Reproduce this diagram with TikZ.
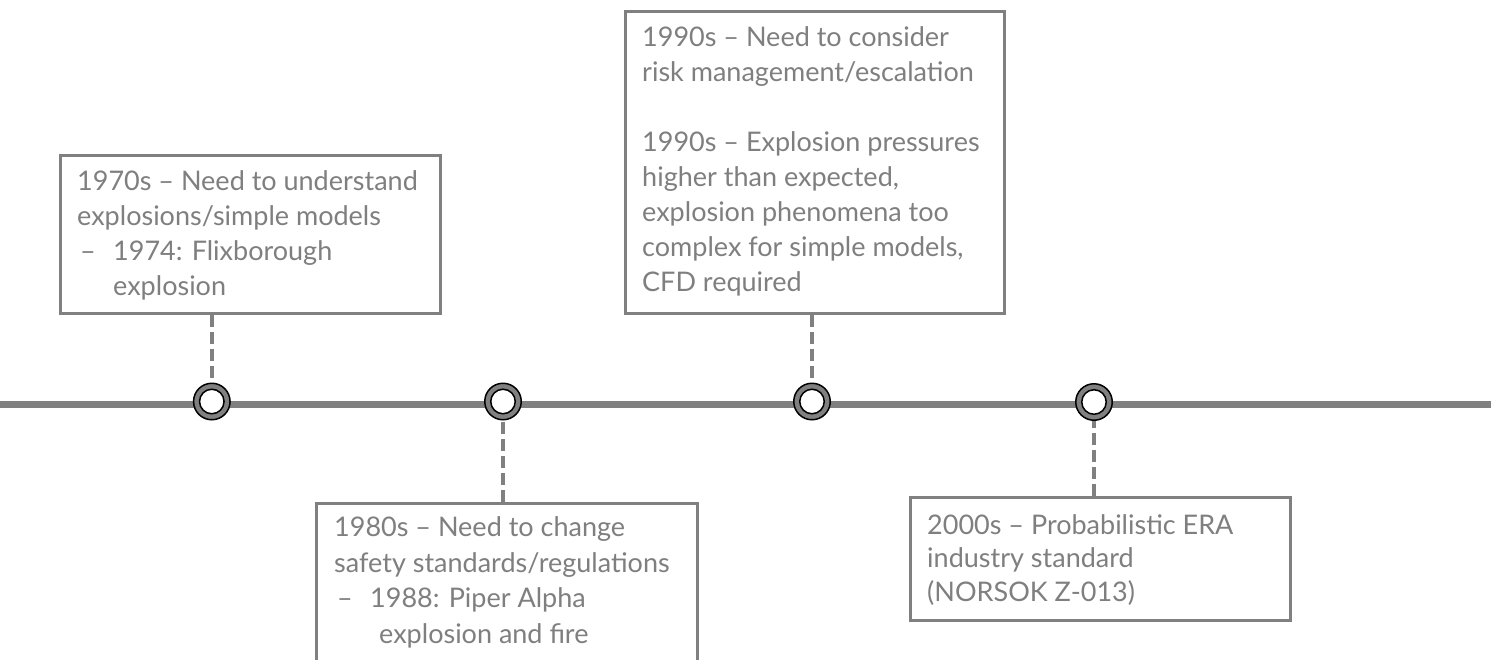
\documentclass[tikz,border=0pt]{standalone}
\usepackage{fontspec}
\setmainfont{Lato}
\usetikzlibrary{calc}
\definecolor{tlgray}{HTML}{808080}
\definecolor{txtgray}{HTML}{7F7F7F}
\begin{document}
\begin{tikzpicture}[x=1pt,y=-1pt,
  boxst/.style={draw=tlgray, line width=3pt, fill=white, rectangle, inner sep=0pt, anchor=north west},
  txt/.style={text=txtgray, font=\fontsize{27}{35}\selectfont, inner sep=0pt, anchor=base west, align=left},
  conn/.style={draw=tlgray, line width=4pt, dash pattern=on 12pt off 5pt},
  ring/.style={circle, draw=black, line width=1.5pt, fill=tlgray, minimum size=36.5pt, inner sep=0pt},
  hole/.style={circle, draw=black, line width=1.5pt, fill=white, minimum size=24.5pt, inner sep=0pt},
  tline/.style={draw=tlgray, line width=7pt}]
\useasboundingbox (0,0) rectangle (1491,659);
\fill[white] (0,0) rectangle (1491,659);
% timeline
\coordinate (tlL) at (0,404);
\coordinate (tlR) at (1491,404);
\draw[tline] (tlL) -- (tlR);
% event points
\coordinate (p1) at (211.8,401.5);
\coordinate (p2) at (503,401.5);
\coordinate (p3) at (812,401.5);
\coordinate (p4) at (1094,402);
% boxes
\node[boxst, minimum width=380pt, minimum height=158pt] (b1) at (58.5,153.5) {};
\node[boxst, minimum width=381pt, minimum height=200pt] (b2) at (314.5,501.5) {};
\node[boxst, minimum width=379pt, minimum height=302pt] (b3) at (623.5,9.5) {};
\node[boxst, minimum width=380pt, minimum height=123pt] (b4) at (908.5,495.5) {};
% connectors
\draw[conn] (b1.south -| p1) -- (p1);
\draw[conn] (b2.north -| p2) -- (p2);
\draw[conn] (b3.south -| p3) -- (p3);
\draw[conn] (b4.north -| p4) -- (p4);
% circles
\foreach \i in {1,2,3,4}{
  \node[ring] (r\i) at (p\i) {};
  \node[hole] (h\i) at (p\i) {};
}
% texts (anchored at the baseline of the last line)
\node[txt] (t1) at (77,295) {1970s -- Need to understand\\explosions/simple models\\\makebox[36pt][l]{\hspace{3pt}--}1974: Flixborough\\\hspace{36pt}explosion};
\node[txt, font=\fontsize{27}{35.5}\selectfont] (t2) at (334,643) {1980s -- Need to change\\safety standards/regulations\\\makebox[36pt][l]{\hspace{3pt}--}1988: Piper Alpha\\\hspace{45pt}explosion and fire};
\node[txt] (t3) at (642,291.7) {1990s -- Need to consider\\risk management/escalation\\[35pt]1990s -- Explosion pressures\\higher than expected,\\explosion phenomena too\\complex for simple models,\\CFD required};
\node[txt, font=\fontsize{27}{33.5}\selectfont] (t4) at (927,601) {2000s -- Probabilistic ERA\\industry standard\\(NORSOK Z-013)};
\end{tikzpicture}
\end{document}
